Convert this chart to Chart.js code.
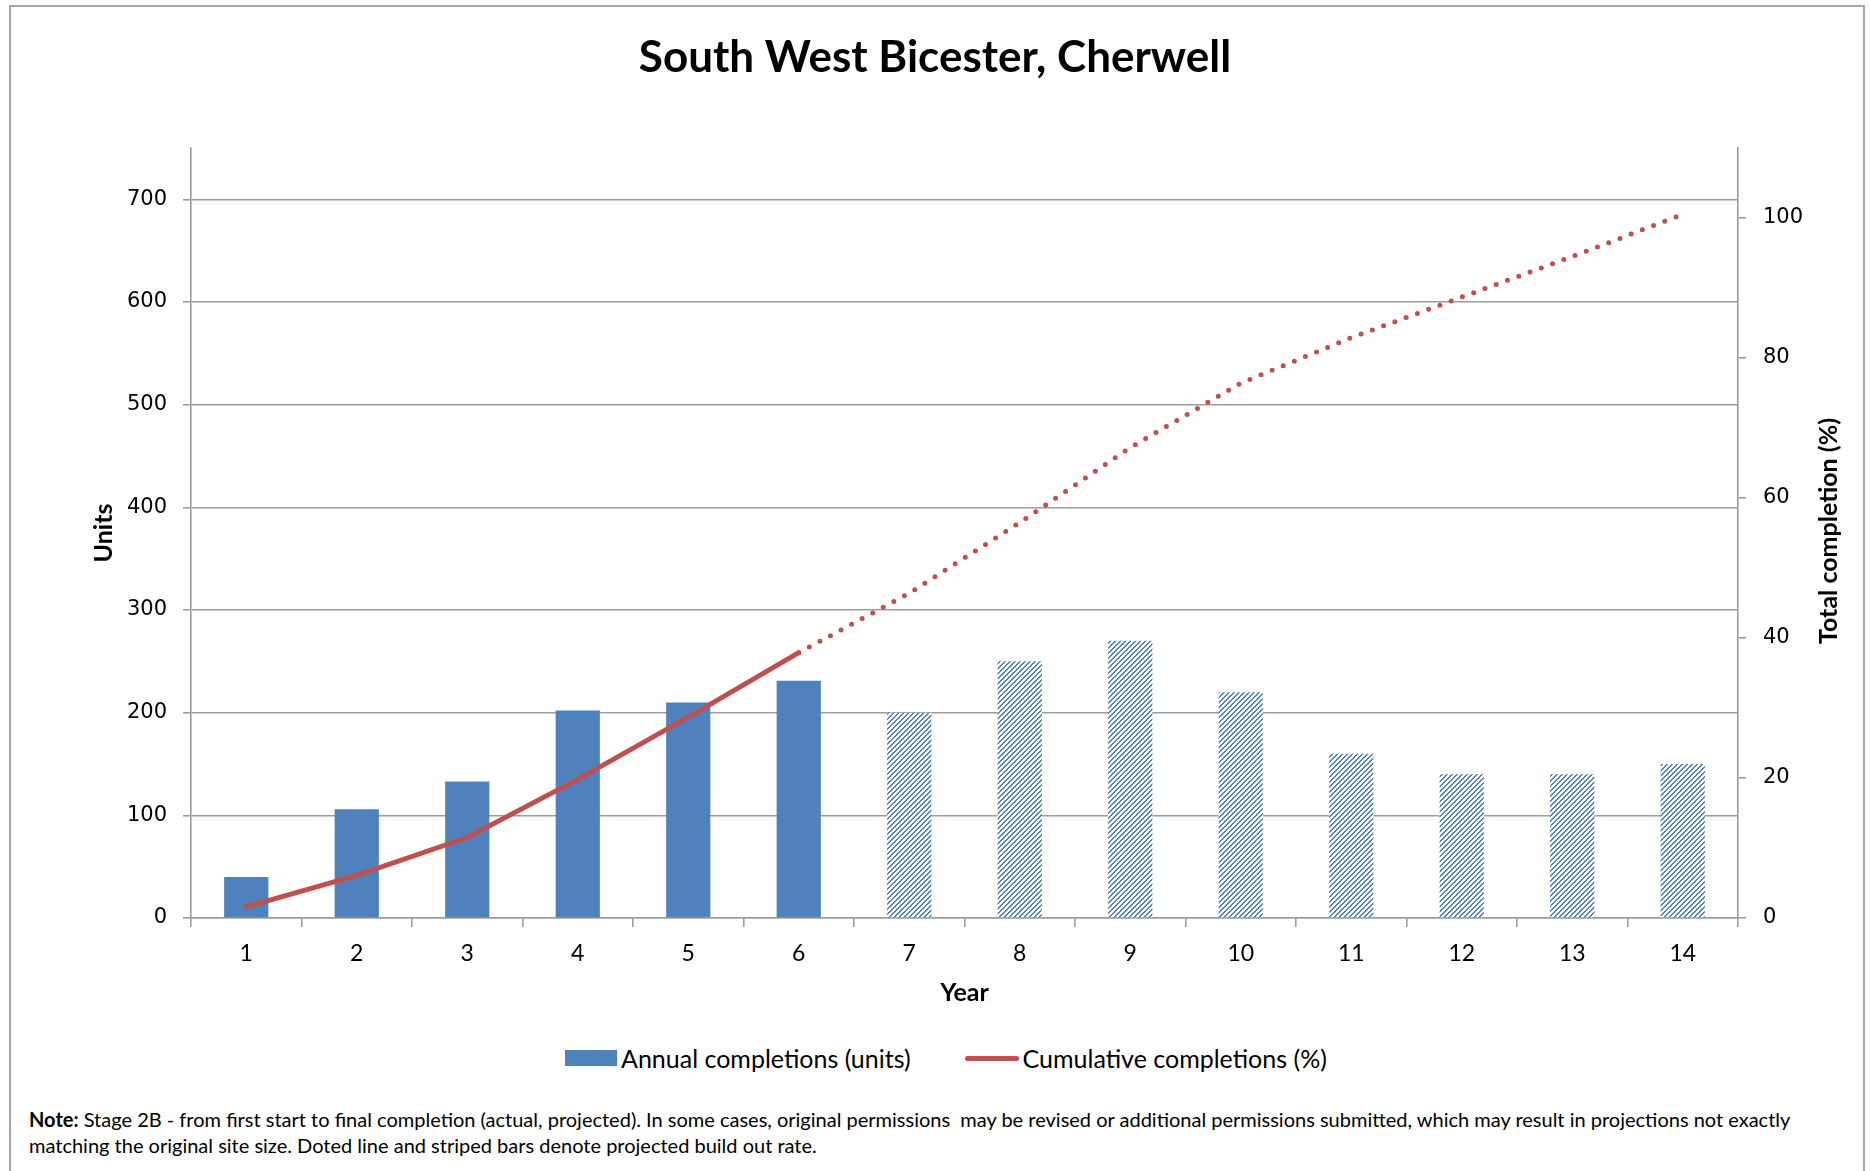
<!DOCTYPE html>
<html lang="en">
<head>
    <meta charset="UTF-8">
    <title>South West Bicester, Cherwell</title>
    <script src="https://cdn.jsdelivr.net/npm/chart.js"></script>
    <style>
        body { margin: 0; background: #fff; }
        #frame { position: absolute; left: 9px; top: 5px; width: 1856px; height: 1200px; border: 2px solid #a6a6a6; box-sizing: border-box; }
        #chartBox { position: absolute; left: 0; top: 0; }
        #legend { position: absolute; left: 565px; top: 1044px; height: 28px; display: flex; align-items: center; font-family: Lato; font-size: 25px; color: #000; }
        #legend .item { display: flex; align-items: center; margin-right: 54px; }
        #legend .swatch { margin-right: 4px; }
        #note { position: absolute; left: 29px; top: 1106px; font-family: Lato; font-size: 20px; line-height: 26px; white-space: pre; color: #000; }
    </style>
</head>
<body>
<div id="frame"></div>
<div id="chartBox"><canvas id="myChart" width="1870" height="1010"></canvas></div>
<div id="legend"></div>
<div id="note"><b>Note:</b> Stage 2B - from first start to final completion (actual, projected). In some cases, original permissions  may be revised or additional permissions submitted, which may result in projections not exactly
matching the original site size. Doted line and striped bars denote projected build out rate.</div>
<script>
    // data
    const years = ['1', '2', '3', '4', '5', '6', '7', '8', '9', '10', '11', '12', '13', '14'];
    const annualUnits = [40, 106, 133, 202, 210, 231, 200, 250, 270, 220, 160, 140, 140, 150];
    const cumulativePct = [1.6, 6.1, 11.5, 19.8, 28.7, 37.9, 46.4, 56.5, 67.2, 76.4, 82.9, 88.7, 94.5, 100.5];
    const unitTicks = [0, 100, 200, 300, 400, 500, 600, 700];
    const pctTicks = [0, 20, 40, 60, 80, 100];
    const firstProjected = 6; // year 7 onwards is projected
    const seriesNames = ['Annual completions (units)', 'Cumulative completions (%)'];
    const rightAxisTitle = 'Total completion (%)';

    const blue = '#4F81BD';
    const red = '#C0504D';
    const gridColor = '#9c9c9c';

    // striped fill for the projected bars
    function stripes() {
        const c = document.createElement('canvas');
        c.width = 5; c.height = 5;
        const g = c.getContext('2d');
        g.fillStyle = '#fff';
        g.fillRect(0, 0, 5, 5);
        g.fillStyle = blue;
        for (let x = 0; x < 5; x++) {
            for (let y = 0; y < 5; y++) {
                if ((x + y) % 5 < 2) g.fillRect(x, y, 1, 1);
            }
        }
        return g.createPattern(c, 'repeat');
    }
    const stripe = stripes();

    // right axis title reads bottom to top, chart.js would turn it the other way
    const rightTitle = {
        id: 'rightTitle',
        afterDraw(chart) {
            const s = chart.scales.y1;
            const ctx = chart.ctx;
            ctx.save();
            ctx.translate(s.right - 41, (s.top + s.bottom) / 2 - 2);
            ctx.rotate(-Math.PI / 2);
            ctx.font = 'bold 25px Lato';
            ctx.fillStyle = '#000';
            ctx.textAlign = 'center';
            ctx.textBaseline = 'middle';
            ctx.fillText(rightAxisTitle, 0, 0);
            ctx.restore();
        }
    };

    const ctx = document.getElementById('myChart');
    const myChart = new Chart(ctx, {
        type: 'bar',
        data: {
            labels: years,
            datasets: [{
                type: 'line',
                label: seriesNames[1],
                data: cumulativePct,
                yAxisID: 'y1',
                borderColor: red,
                borderWidth: 5,
                borderCapStyle: 'round',
                pointRadius: 0,
                tension: 0,
                order: 0,
                segment: {
                    borderDash: c => c.p0DataIndex >= firstProjected - 1 ? [0, 12] : undefined
                }
            }, {
                type: 'bar',
                label: seriesNames[0],
                data: annualUnits,
                yAxisID: 'y',
                backgroundColor: annualUnits.map((v, i) => i < firstProjected ? blue : stripe),
                barPercentage: 0.4,
                categoryPercentage: 1,
                order: 1
            }]
        },
        options: {
            responsive: false,
            animation: false,
            layout: { padding: 0 },
            plugins: {
                legend: { display: false },
                tooltip: { enabled: false },
                title: {
                    display: true,
                    text: 'South West Bicester, Cherwell',
                    color: '#000',
                    font: { family: 'Lato', size: 44, weight: 'bold' },
                    padding: { top: 31, bottom: 64.2 }
                }
            },
            scales: {
                x: {
                    grid: { offset: true, drawOnChartArea: false, tickLength: 9, color: gridColor, lineWidth: 1.6 },
                    border: { color: gridColor, width: 1.6 },
                    ticks: { color: '#000', font: { family: 'Lato', size: 23 }, padding: 12.5, maxRotation: 0 },
                    title: {
                        display: true, text: 'Year', color: '#000',
                        font: { family: 'Lato', size: 25, weight: 'bold' },
                        padding: { top: 0, bottom: 2.5 }
                    },
                    afterFit: s => { s.height = 92; }
                },
                y: {
                    position: 'left',
                    min: 0,
                    max: 750,
                    afterBuildTicks: s => { s.ticks = unitTicks.map(v => ({ value: v })); },
                    grid: { tickLength: 8, color: gridColor, lineWidth: 1.6 },
                    border: { color: gridColor, width: 1.6 },
                    ticks: { color: '#000', font: { family: 'DejaVu Sans', size: 21 }, padding: 16 },
                    title: {
                        display: true, text: 'Units', color: '#000',
                        font: { family: 'Lato', size: 25, weight: 'bold' },
                        padding: { top: 88.5, bottom: 0 }
                    },
                    afterFit: s => { s.width = 191; }
                },
                y1: {
                    position: 'right',
                    min: 0,
                    max: 110,
                    afterBuildTicks: s => { s.ticks = pctTicks.map(v => ({ value: v })); },
                    grid: { drawOnChartArea: false, tickLength: 8, color: gridColor, lineWidth: 1.6 },
                    border: { color: gridColor, width: 1.6 },
                    ticks: { color: '#000', font: { family: 'DejaVu Sans', size: 21 }, padding: 17 },
                    afterFit: s => { s.width = 132; }
                }
            }
        },
        plugins: [rightTitle]
    });

    // html legend, same look as the excel one
    const legend = document.getElementById('legend');
    const swatches = [
        '<span class="swatch" style="display:inline-block;width:52px;height:16px;background:' + blue + '"></span>',
        '<span class="swatch" style="display:inline-block;width:54px;height:5px;border-radius:3px;background:' + red + '"></span>'
    ];
    seriesNames.forEach((name, i) => {
        const item = document.createElement('div');
        item.className = 'item';
        item.innerHTML = swatches[i] + '<span>' + name + '</span>';
        legend.appendChild(item);
    });
</script>
</body>
</html>
